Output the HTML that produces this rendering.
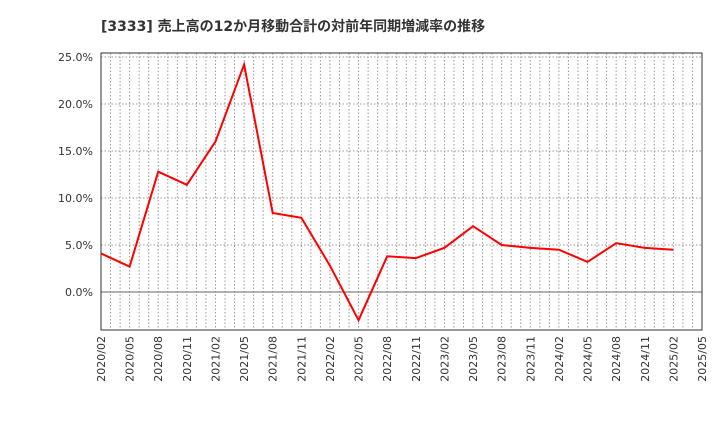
<!DOCTYPE html>
<html><head><meta charset="utf-8"><style>
body{margin:0;background:#fff;}
text{font-family:"DejaVu Sans","Noto Sans CJK JP",sans-serif;}
</style></head><body>
<svg id="chart" width="720" height="440" xmlns="http://www.w3.org/2000/svg">
<text x="101" y="31" font-size="14" font-weight="bold" fill="#333">[3333]  売上高の12か月移動合計の対前年同期増減率の推移</text>
<g id="grid"></g>
<g id="axes"></g>
<polyline id="line" fill="none" stroke="#ff0000" stroke-width="2"/>
</svg>
<script>
const categories=["2020/02","2020/05","2020/08","2020/11","2021/02","2021/05","2021/08","2021/11","2022/02","2022/05","2022/08","2022/11","2023/02","2023/05","2023/08","2023/11","2024/02","2024/05","2024/08","2024/11","2025/02","2025/05"];
const values=[4.1,2.7,12.8,11.4,16.0,24.2,8.4,7.9,2.8,-3.0,3.8,3.6,4.7,7.0,5.0,4.7,4.5,3.2,5.2,4.7,4.5];
const yTicks=[0,5,10,15,20,25];
const X0=101,X1=702,Y0=53,Y1=330;
const ns="http://www.w3.org/2000/svg";
const xs=i=>X0+(X1-X0)*i/(categories.length-1);
const ys=v=>292-v*(292-57)/25;
const grid=document.getElementById('grid'),axes=document.getElementById('axes');
function mk(tag,attrs,parent){const e=document.createElementNS(ns,tag);for(const k in attrs)e.setAttribute(k,attrs[k]);parent.appendChild(e);return e;}
const months=(categories.length-1)*3;
for(let m=1;m<months;m++){const x=X0+(X1-X0)*m/months;
const l=mk('line',{x1:x,x2:x,y1:Y0,y2:Y1,stroke:'#999','stroke-dasharray':'1.5,2','stroke-width':1},grid);
}
yTicks.forEach(t=>{const y=ys(t);
const l=mk('line',{x1:X0,x2:X1,y1:y,y2:y,stroke:t===0?'#666':'#999','stroke-dasharray':t===0?'none':'1.5,2','stroke-width':1},grid);

const tx=mk('text',{x:X0-8,y:y+4,'text-anchor':'end','font-size':11,fill:'#333'},axes);tx.textContent=t.toFixed(1)+'%';
});
const fr=mk('rect',{x:X0,y:Y0,width:X1-X0,height:Y1-Y0,fill:'none',stroke:'#333','stroke-width':1},axes);

categories.forEach((c,i)=>{const x=xs(i);
const tx=mk('text',{x:x+4,y:Y1+6,'text-anchor':'end','font-size':11,fill:'#333',transform:`rotate(-90 ${x+4} ${Y1+6})`},axes);tx.textContent=c;
});
document.getElementById('line').setAttribute('points',values.map((v,i)=>xs(i)+','+ys(v)).join(' '));
</script>
</body></html>
